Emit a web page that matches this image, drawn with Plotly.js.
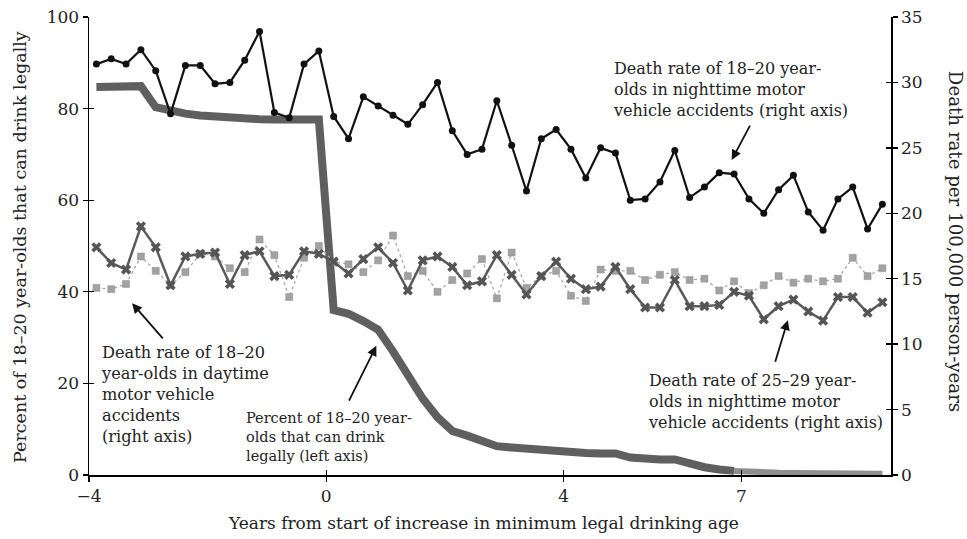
<!DOCTYPE html>
<html>
<head>
<meta charset="utf-8">
<script src="https://cdn.plot.ly/plotly-3.0.1.min.js"></script>
<style>html,body{margin:0;padding:0;background:#fff;}#chart{width:967px;height:539px;}</style>
</head>
<body>
<div id="chart"></div>
<script>
// Quarter midpoints (years from start of increase in minimum legal drinking age)
var quarters = [-3.875,-3.625,-3.375,-3.125,-2.875,-2.625,-2.375,-2.125,-1.875,-1.625,-1.375,-1.125,-0.875,-0.625,-0.375,-0.125,
  0.125,0.375,0.625,0.875,1.125,1.375,1.625,1.875,2.125,2.375,2.625,2.875,3.125,3.375,3.625,3.875,
  4.125,4.375,4.625,4.875,5.125,5.375,5.625,5.875,6.125,6.375,6.625,6.875,7.125,7.375,7.625,7.875,
  8.125,8.375,8.625,8.875,9.125,9.375];

// Death rate of 18-20 year-olds, nighttime accidents (right axis)
var night1820 = [31.4,31.8,31.4,32.5,30.9,27.6,31.3,31.3,29.9,30.0,31.7,33.9,27.7,27.3,31.4,32.4,
  27.4,25.7,28.9,28.2,27.5,26.8,28.3,30.0,26.3,24.5,24.9,28.6,25.2,21.7,25.7,26.4,
  24.9,22.7,25.0,24.6,21.0,21.1,22.4,24.8,21.2,22.0,23.1,23.0,21.1,20.0,21.8,22.9,
  20.1,18.7,21.1,22.0,18.8,20.7];

// Death rate of 18-20 year-olds, daytime accidents (right axis)
var day1820 = [14.3,14.2,14.6,16.7,15.6,14.5,15.5,16.9,16.7,15.8,15.5,18.0,16.8,13.6,16.6,17.5,
  16.3,16.1,15.5,16.4,18.3,15.2,15.6,14.0,14.9,15.4,16.5,13.5,17.0,14.3,15.2,15.6,
  13.7,13.3,15.7,15.6,15.6,14.9,15.3,15.5,14.9,15.0,14.1,14.8,13.9,14.5,15.2,14.7,
  15.0,14.8,15.0,16.6,15.2,15.8];

// Death rate of 25-29 year-olds, nighttime accidents (right axis)
var night2529 = [17.4,16.2,15.7,19.0,17.4,14.5,16.7,16.9,17.0,14.6,16.8,17.1,15.2,15.3,17.1,16.9,
  16.3,15.4,16.5,17.4,16.2,14.1,16.4,16.7,15.9,14.5,14.8,16.8,15.3,13.8,15.2,16.3,
  15.0,14.2,14.4,15.9,14.2,12.8,12.8,14.9,12.9,12.9,13.0,14.0,13.7,11.9,12.9,13.4,
  12.5,11.8,13.6,13.6,12.4,13.2];

// Percent of 18-20 year-olds that can drink legally (left axis)
var pctQuarters = quarters.slice(0, 44);
var pctLegal = [84.7,84.7,84.8,84.9,80.3,79.5,78.9,78.5,78.2,77.9,77.8,77.7,77.6,77.6,77.6,77.6,
  36.0,35.2,33.6,31.7,27.0,21.7,16.7,12.6,9.6,8.6,7.6,6.3,6.0,5.7,5.5,5.2,
  5.0,4.8,4.7,4.7,3.8,3.4,3.4,3.4,2.5,1.7,1.2,0.9];
var pctTailQuarters = quarters.slice(43);
var pctTail = [0.9,0.7,0.6,0.5,0.45,0.4,0.4,0.35,0.35,0.3,0.3];

var xTicks = [-4, 0, 4, 7];
var leftTicks = [0, 20, 40, 60, 80, 100];
var rightTicks = [0, 5, 10, 15, 20, 25, 30, 35];

var serif = 'DejaVu Serif, Liberation Serif, serif';
var txt = '#222';
var xr = [-4, 9.52];

var traces = [
  {x: pctQuarters, y: pctLegal, type: 'scatter', mode: 'lines', xaxis: 'x', yaxis: 'y',
   line: {color: '#5f5f5f', width: 8}, hoverinfo: 'skip'},
  {x: pctTailQuarters, y: pctTail, type: 'scatter', mode: 'lines', xaxis: 'x', yaxis: 'y',
   line: {color: '#8e8e8e', width: 6}, hoverinfo: 'skip'},
  {x: quarters, y: day1820, type: 'scatter', mode: 'lines+markers', xaxis: 'x', yaxis: 'y2',
   line: {color: '#a8a8a8', width: 1.3, dash: 'dot'},
   marker: {symbol: 'square', size: 7, color: '#a2a2a2', line: {color: '#8f8f8f', width: 0.5}}},
  {x: quarters, y: night2529, type: 'scatter', mode: 'lines+markers', xaxis: 'x', yaxis: 'y2',
   line: {color: '#5a5a5a', width: 2.5},
   marker: {symbol: 'x', size: 9, color: '#555555'}},
  {x: quarters, y: night1820, type: 'scatter', mode: 'lines+markers', xaxis: 'x', yaxis: 'y2',
   line: {color: '#111111', width: 2.2},
   marker: {symbol: 'circle', size: 7, color: '#111111'}},
  // helper traces so the inside-tick overlay axes are drawn
  {x: [-10], y: [-10], type: 'scatter', mode: 'markers', xaxis: 'x2', yaxis: 'y3', hoverinfo: 'skip', marker: {size: 1}},
  {x: [-10], y: [-10], type: 'scatter', mode: 'markers', xaxis: 'x2', yaxis: 'y4', hoverinfo: 'skip', marker: {size: 1}}
];

var axBase = {showgrid: false, zeroline: false, ticklen: 5, tickwidth: 1.3, tickcolor: '#000',
  linecolor: '#000', linewidth: 1.5, tickfont: {family: serif, size: 17, color: txt}, fixedrange: true};

var layout = {
  width: 967, height: 539,
  margin: {l: 89, r: 76, t: 17, b: 64},
  paper_bgcolor: '#fff', plot_bgcolor: '#fff',
  showlegend: false,
  font: {family: serif, color: txt},
  xaxis: Object.assign({}, axBase, {range: xr, tickmode: 'array', tickvals: xTicks, ticks: 'outside', showline: true, anchor: 'y'}),
  yaxis: Object.assign({}, axBase, {range: [0, 100], tickmode: 'array', tickvals: leftTicks, ticks: 'outside', showline: true, anchor: 'x'}),
  yaxis2: Object.assign({}, axBase, {range: [0, 35], tickmode: 'array', tickvals: rightTicks, ticks: 'outside', showline: true, overlaying: 'y', side: 'right', anchor: 'x'}),
  xaxis2: Object.assign({}, axBase, {range: xr, tickmode: 'array', tickvals: xTicks, ticks: 'inside', showline: false, showticklabels: false, overlaying: 'x', anchor: 'y'}),
  yaxis3: Object.assign({}, axBase, {range: [0, 100], tickmode: 'array', tickvals: leftTicks, ticks: 'inside', showline: false, showticklabels: false, overlaying: 'y', side: 'left', anchor: 'x'}),
  yaxis4: Object.assign({}, axBase, {range: [0, 35], tickmode: 'array', tickvals: rightTicks, ticks: 'inside', showline: false, showticklabels: false, overlaying: 'y', side: 'right', anchor: 'x'}),
  annotations: [
    {xref: 'paper', yref: 'paper', x: 0.4925, y: -0.105, xanchor: 'center', yanchor: 'middle', showarrow: false,
     text: 'Years from start of increase in minimum legal drinking age', font: {family: serif, size: 17, color: txt}},
    {xref: 'paper', yref: 'paper', x: -0.086, y: 0.498, xanchor: 'center', yanchor: 'middle', showarrow: false, textangle: -90,
     text: 'Percent of 18–20 year-olds that can drink legally', font: {family: serif, size: 17.5, color: txt}},
    {xref: 'paper', yref: 'paper', x: 1.08, y: 0.511, xanchor: 'center', yanchor: 'middle', showarrow: false, textangle: 90,
     text: 'Death rate per 100,000 person-years', font: {family: serif, size: 18.2, color: txt}},

    {xref: 'x', yref: 'y', x: 4.80, y: 84.2, xanchor: 'left', yanchor: 'middle', align: 'left', showarrow: false,
     text: 'Death rate of 18–20 year-<br>olds in nighttime motor<br>vehicle accidents (right axis)', font: {family: serif, size: 16, color: txt}},
    {xref: 'x', yref: 'y', x: -3.83, y: 17.5, xanchor: 'left', yanchor: 'middle', align: 'left', showarrow: false,
     text: 'Death rate of 18–20<br>year-olds in daytime<br>motor vehicle<br>accidents<br>(right axis)', font: {family: serif, size: 16.2, color: txt}},
    {xref: 'x', yref: 'y', x: -1.38, y: 8.2, xanchor: 'left', yanchor: 'middle', align: 'left', showarrow: false,
     text: 'Percent of 18–20 year-<br>olds that can drink<br>legally (left axis)', font: {family: serif, size: 14.5, color: txt}},
    {xref: 'x', yref: 'y', x: 5.39, y: 16.0, xanchor: 'left', yanchor: 'middle', align: 'left', showarrow: false,
     text: 'Death rate of 25–29 year-<br>olds in nighttime motor<br>vehicle accidents (right axis)', font: {family: serif, size: 16, color: txt}},

    {xref: 'x', yref: 'y', axref: 'x', ayref: 'y', x: 6.835, y: 68.8, ax: 7.156, ay: 76.6, text: '', showarrow: true,
     arrowhead: 2, arrowsize: 1.1, arrowwidth: 1.8, arrowcolor: '#111', standoff: 0},
    {xref: 'x', yref: 'y', axref: 'x', ayref: 'y', x: -3.274, y: 37.5, ax: -2.734, ay: 29.5, text: '', showarrow: true,
     arrowhead: 2, arrowsize: 1.1, arrowwidth: 1.8, arrowcolor: '#111', standoff: 0},
    {xref: 'x', yref: 'y', axref: 'x', ayref: 'y', x: 0.844, y: 28.2, ax: 0.371, ay: 15.9, text: '', showarrow: true,
     arrowhead: 2, arrowsize: 1.1, arrowwidth: 1.8, arrowcolor: '#111', standoff: 0},
    {xref: 'x', yref: 'y', axref: 'x', ayref: 'y', x: 7.78, y: 33.8, ax: 7.561, ay: 24.4, text: '', showarrow: true,
     arrowhead: 2, arrowsize: 1.1, arrowwidth: 1.8, arrowcolor: '#111', standoff: 0}
  ]
};

Plotly.newPlot('chart', traces, layout, {displayModeBar: false, staticPlot: true});
</script>
</body>
</html>
